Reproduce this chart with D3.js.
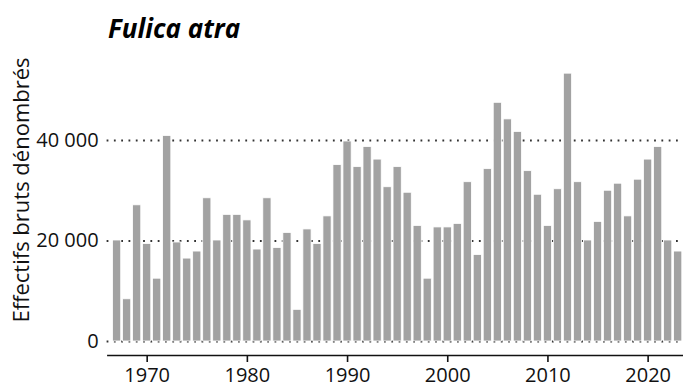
<!DOCTYPE html>
<html>
<head>
<meta charset="utf-8">
<script src="https://cdn.jsdelivr.net/npm/d3@7"></script>
<style>
  body { margin: 0; background: #fff; }
  svg { display: block; font-family: "Open Sans", sans-serif; }
</style>
</head>
<body>
<div id="chart"></div>
<script>
let w = 683,
    h = 392;

// comptages annuels
let years = d3.range(1967, 2024);
let counts = [
  20100, 8400, 27100, 19400, 12500, 40900, 19700, 16500, 17900, 28500,
  20100, 25200, 25200, 24100, 18300, 28500, 18600, 21600, 6300, 22300,
  19400, 24900, 35100, 39800, 34700, 38700, 36200, 30700, 34700, 29600,
  23000, 12500, 22700, 22700, 23400, 31700, 17200, 34300, 47500, 44200,
  41700, 33900, 29200, 23000, 30300, 53300, 31700, 20100, 23800, 30000,
  31400, 24900, 32200, 36200, 38700, 20100, 17900
];
let xTicks = [1970, 1980, 1990, 2000, 2010, 2020];
let yTicks = [0, 20000, 40000];
let title = "Fulica atra";
let yLabel = "Effectifs bruts dénombrés";

let data = years.map((d, i) => ({ year: d, value: counts[i] }));

let margin = { top: 140, bottom: 51, left: 106.6, right: 0 };

let x = d3.scaleLinear()
          .domain([1966, 2023.6])
          .range([margin.left, w + 0.7]);

let y = d3.scaleLinear()
          .domain([0, 40000])
          .range([h - margin.bottom, margin.top]);

let fr = d3.formatLocale({ decimal: ",", thousands: " ", grouping: [3], currency: ["", ""] });

let svg = d3.select("#chart")
            .append("svg")
            .attr("width", w)
            .attr("height", h);

// grille pointillée
let grid = svg.append("g")
              .attr("transform", "translate(" + margin.left + ",0)")
              .call(d3.axisLeft(y)
                      .tickValues(yTicks)
                      .tickSize(-(w - margin.left))
                      .tickPadding(8)
                      .tickFormat(fr.format(",d")));

grid.select(".domain").remove();
grid.selectAll(".tick line")
    .attr("stroke", "#333")
    .attr("stroke-width", 1.8)
    .attr("stroke-dasharray", "1.8,5.5");
grid.selectAll(".tick text")
    .attr("font-size", 20)
    .attr("fill", "#111")
    .attr("font-family", "Open Sans, sans-serif");

let step = x(1968) - x(1967);
let bw = step * 0.82;

svg.selectAll(".bar")
   .data(data)
   .enter()
   .append("rect")
   .attr("class", "bar")
   .attr("x", d => x(d.year) - bw / 2)
   .attr("width", bw)
   .attr("y", d => y(d.value))
   .attr("height", d => y(0) - y(d.value))
   .attr("fill", "#a2a2a2")
   .attr("stroke", "#fff")
   .attr("stroke-width", 0.8);

// axe des années
let xAxis = svg.append("g")
               .attr("transform", "translate(0,355)")
               .call(d3.axisBottom(x)
                       .tickValues(xTicks)
                       .tickFormat(d3.format("d"))
                       .tickSize(7)
                       .tickSizeOuter(0)
                       .tickPadding(6));

xAxis.select(".domain")
     .attr("stroke", "#111")
     .attr("stroke-width", 1.6);
xAxis.selectAll(".tick line")
     .attr("stroke", "#111")
     .attr("stroke-width", 1.6);
xAxis.selectAll(".tick text")
     .attr("font-size", 20)
     .attr("fill", "#111")
     .attr("font-family", "Open Sans, sans-serif");

svg.append("text")
   .attr("transform", "translate(29,190) rotate(-90)")
   .attr("text-anchor", "middle")
   .attr("font-size", 22)
   .attr("fill", "#111")
   .text(yLabel);

svg.append("text")
   .attr("x", 108)
   .attr("y", 38)
   .attr("font-size", 26)
   .attr("font-weight", "bold")
   .attr("font-style", "italic")
   .attr("fill", "#000")
   .text(title);
</script>
</body>
</html>
